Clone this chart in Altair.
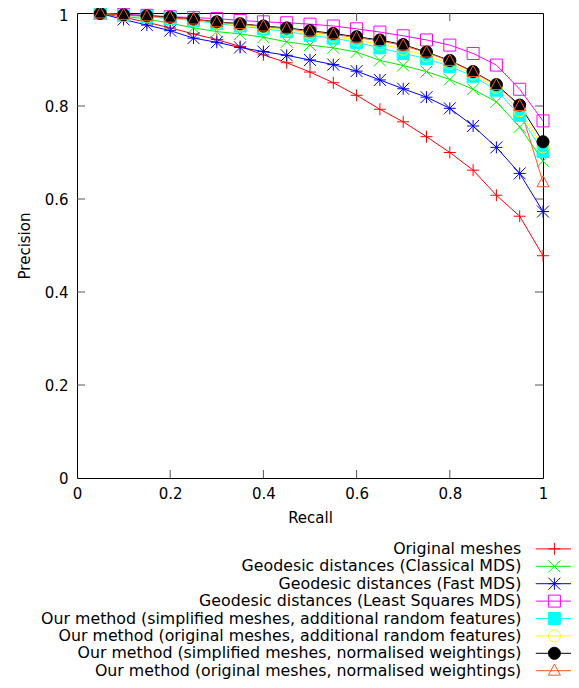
import altair as alt
import pandas as pd

# ---------------- data ----------------
recall = [0.05, 0.10, 0.15, 0.20, 0.25, 0.30, 0.35, 0.40, 0.45, 0.50,
          0.55, 0.60, 0.65, 0.70, 0.75, 0.80, 0.85, 0.90, 0.95, 1.00]

series_names = [
    "Original meshes",
    "Geodesic distances (Classical MDS)",
    "Geodesic distances (Fast MDS)",
    "Geodesic distances (Least Squares MDS)",
    "Our method (simplified meshes, additional random features)",
    "Our method (original meshes, additional random features)",
    "Our method (simplified meshes, normalised weightings)",
    "Our method (original meshes, normalised weightings)",
]

original_meshes = [0.999, 0.991, 0.980, 0.968, 0.955, 0.943, 0.928, 0.910, 0.893, 0.873,
                   0.850, 0.823, 0.793, 0.766, 0.734, 0.700, 0.662, 0.608, 0.563, 0.478]
classical_mds = [0.999, 0.993, 0.987, 0.978, 0.968, 0.960, 0.955, 0.948, 0.938, 0.931,
                 0.925, 0.916, 0.898, 0.887, 0.874, 0.857, 0.836, 0.809, 0.755, 0.682]
fast_mds = [0.999, 0.986, 0.974, 0.962, 0.946, 0.937, 0.926, 0.917, 0.909, 0.899,
            0.889, 0.875, 0.856, 0.837, 0.819, 0.795, 0.757, 0.711, 0.655, 0.573]
least_squares_mds = [1.000, 0.997, 0.995, 0.992, 0.990, 0.988, 0.984, 0.981, 0.979, 0.976,
                     0.972, 0.966, 0.959, 0.951, 0.942, 0.931, 0.913, 0.888, 0.836, 0.768]
simplified_random = [0.999, 0.995, 0.992, 0.988, 0.984, 0.977, 0.972, 0.966, 0.960, 0.952,
                     0.946, 0.937, 0.925, 0.913, 0.902, 0.885, 0.864, 0.834, 0.780, 0.702]
original_random = [0.999, 0.995, 0.993, 0.989, 0.985, 0.979, 0.974, 0.969, 0.963, 0.956,
                   0.950, 0.942, 0.933, 0.922, 0.908, 0.891, 0.869, 0.840, 0.790, 0.712]
simplified_normalised = [0.999, 0.996, 0.994, 0.991, 0.987, 0.981, 0.977, 0.972, 0.968, 0.962,
                         0.956, 0.949, 0.942, 0.932, 0.916, 0.898, 0.874, 0.846, 0.802, 0.723]
original_normalised = [0.999, 0.996, 0.993, 0.990, 0.986, 0.980, 0.976, 0.971, 0.966, 0.960,
                       0.954, 0.947, 0.940, 0.930, 0.915, 0.897, 0.873, 0.845, 0.800, 0.636]

all_series = [original_meshes, classical_mds, fast_mds, least_squares_mds,
              simplified_random, original_random, simplified_normalised, original_normalised]

tick_values = [0, 0.2, 0.4, 0.6, 0.8, 1]
inner_ticks = [0.2, 0.4, 0.6, 0.8]

# ---------------- styles ----------------
colors = ["#ff0000", "#00ee00", "#0000ff", "#ff00ff", "#00ffff", "#ffff00", "#000000", "#ff5522"]
fills = ["transparent", "transparent", "transparent", "transparent",
         "#00ffff", "transparent", "#000000", "transparent"]

PLUS = "M-1,0H1M0,-1V1"
CROSS = "M-1,-1L1,1M-1,1L1,-1"
STAR = "M-1,0H1M0,-1V1M-1,-1L1,1M-1,1L1,-1"
SQUARE = "M-1,-1H1V1H-1Z"
CIRCLE = "M1,0A1,1,0,1,1,-1,0A1,1,0,1,1,1,0Z"
TRIANGLE = "M0,-1.1L1,0.75H-1Z"
plot_shapes = [PLUS, CROSS, STAR, SQUARE, SQUARE, CIRCLE, CIRCLE, TRIANGLE]
LINE = "M-3.1,0H3.1"
legend_shapes = [LINE + s for s in plot_shapes]

FONT = "DejaVu Sans"

rows = []
for name, vals in zip(series_names, all_series):
    for r, p in zip(recall, vals):
        rows.append({"recall": r, "precision": p, "series": name})
df = pd.DataFrame(rows)
ticks_df = pd.DataFrame({"t": inner_ticks})

x_scale = alt.Scale(domain=[0, 1], nice=False, zero=False)
y_scale = alt.Scale(domain=[0, 1], nice=False, zero=False)

x_axis = alt.Axis(values=tick_values, format="~g", ticks=False, tickSize=0, domain=False,
                  grid=False, labelFont=FONT, labelFontSize=15, labelColor="black",
                  labelPadding=8, title="Recall", titleFont=FONT, titleFontSize=15,
                  titleFontWeight="normal", titleColor="black", titlePadding=9,
                  labelFlush=False)
y_axis = alt.Axis(values=tick_values, format="~g", ticks=False, tickSize=0, domain=False,
                  grid=False, labelFont=FONT, labelFontSize=15, labelColor="black",
                  labelPadding=9, title="Precision", titleFont=FONT, titleFontSize=15,
                  titleFontWeight="normal", titleColor="black", titlePadding=12,
                  labelFlush=False,
                  labelOffset={"condition": {"test": "datum.value == 1", "value": 2.7}, "value": 0})

W, H = 466, 465
TICK = 8

lines = alt.Chart(df).mark_line(strokeWidth=1).encode(
    x=alt.X("recall:Q", scale=x_scale, axis=x_axis),
    y=alt.Y("precision:Q", scale=y_scale, axis=y_axis),
    stroke=alt.Stroke("series:N", scale=alt.Scale(domain=series_names, range=colors), legend=None),
)

points = alt.Chart(df).mark_point(size=144, strokeWidth=1, opacity=1, filled=False).encode(
    x=alt.X("recall:Q"),
    y=alt.Y("precision:Q"),
    stroke=alt.Stroke("series:N", scale=alt.Scale(domain=series_names, range=colors), legend=None),
    fill=alt.Fill("series:N", scale=alt.Scale(domain=series_names, range=fills), legend=None),
    shape=alt.Shape("series:N", scale=alt.Scale(domain=series_names, range=plot_shapes), legend=None),
)

legend_layer = alt.Chart(df).mark_point(size=144, strokeWidth=1, opacity=1, filled=False).encode(
    stroke=alt.Stroke("series:N", scale=alt.Scale(domain=series_names, range=colors)),
    fill=alt.Fill("series:N", scale=alt.Scale(domain=series_names, range=fills)),
    shape=alt.Shape("series:N", scale=alt.Scale(domain=series_names, range=legend_shapes),
                    legend=alt.Legend(title=None, orient="none", legendX=469.5, legendY=528,
                                      labelAlign="right", labelOffset={"expr": "-41"},
                                      labelFont=FONT, labelFontSize=15.8, labelColor="black",
                                      labelLimit=1000, symbolSize=144, symbolStrokeWidth=1,
                                      rowPadding=0.4, padding=0)),
).transform_filter("false")

tick_color = "#555555"
bottom_ticks = alt.Chart(ticks_df).mark_rule(color=tick_color, strokeWidth=1).encode(
    x=alt.X("t:Q"), y=alt.value(H), y2=alt.value(H - TICK))
top_ticks = alt.Chart(ticks_df).mark_rule(color=tick_color, strokeWidth=1).encode(
    x=alt.X("t:Q"), y=alt.value(0), y2=alt.value(TICK))
left_ticks = alt.Chart(ticks_df).mark_rule(color=tick_color, strokeWidth=1).encode(
    y=alt.Y("t:Q"), x=alt.value(0), x2=alt.value(TICK))
right_ticks = alt.Chart(ticks_df).mark_rule(color=tick_color, strokeWidth=1).encode(
    y=alt.Y("t:Q"), x=alt.value(W), x2=alt.value(W - TICK))

chart = alt.layer(
    bottom_ticks, top_ticks, left_ticks, right_ticks, lines, points, legend_layer
).resolve_scale(
    stroke="independent", fill="independent", shape="independent"
).properties(
    width=W, height=H,
    autosize=alt.AutoSizeParams(type="none"),
    padding={"left": 69, "top": 5, "right": 28, "bottom": 202},
    background="white",
).configure_view(stroke="black", strokeWidth=1)

chart.save("out.html", embed_options={"renderer": "svg", "actions": False})
